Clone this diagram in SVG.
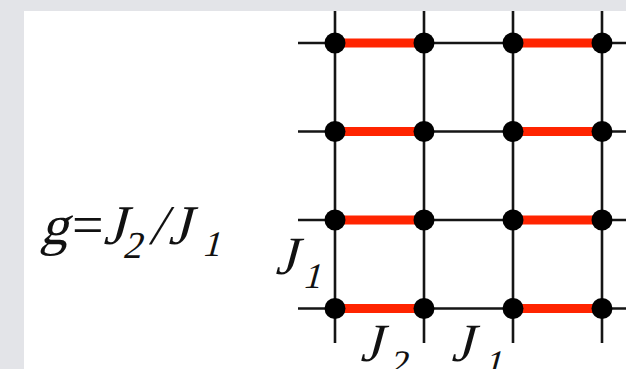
<svg xmlns="http://www.w3.org/2000/svg" width="626" height="369" viewBox="0 0 626 369">
<style>
.ln{stroke:#151515;stroke-width:2.6;fill:none}
.rd{stroke:#ff2400;stroke-width:9;fill:none}
.dot{fill:#000}
</style>
<rect x="0" y="0" width="626" height="369" fill="#e3e4e8"/>
<rect x="24" y="11" width="602" height="358" fill="#fff"/>
<g id="connectors">
<g id="vertical">
<line class="ln" x1="335" y1="11" x2="335" y2="343"/>
<line class="ln" x1="424" y1="11" x2="424" y2="343"/>
<line class="ln" x1="513" y1="11" x2="513" y2="343"/>
<line class="ln" x1="602" y1="11" x2="602" y2="343"/>
</g>
<g id="horizontal">
<line class="ln" x1="298" y1="43" x2="626" y2="43"/>
<line class="ln" x1="298" y1="131.5" x2="626" y2="131.5"/>
<line class="ln" x1="298" y1="220" x2="626" y2="220"/>
<line class="ln" x1="298" y1="308.5" x2="626" y2="308.5"/>
</g>
<g id="j2-bonds">
<line class="rd" x1="335" y1="43" x2="424" y2="43"/>
<line class="rd" x1="513" y1="43" x2="602" y2="43"/>
<line class="rd" x1="335" y1="131.5" x2="424" y2="131.5"/>
<line class="rd" x1="513" y1="131.5" x2="602" y2="131.5"/>
<line class="rd" x1="335" y1="220" x2="424" y2="220"/>
<line class="rd" x1="513" y1="220" x2="602" y2="220"/>
<line class="rd" x1="335" y1="308.5" x2="424" y2="308.5"/>
<line class="rd" x1="513" y1="308.5" x2="602" y2="308.5"/>
</g>
</g>
<g id="nodes">
<g id="n11"><circle class="dot" cx="335" cy="43" r="10.5"/></g>
<g id="n12"><circle class="dot" cx="424" cy="43" r="10.5"/></g>
<g id="n13"><circle class="dot" cx="513" cy="43" r="10.5"/></g>
<g id="n14"><circle class="dot" cx="602" cy="43" r="10.5"/></g>
<g id="n21"><circle class="dot" cx="335" cy="131.5" r="10.5"/></g>
<g id="n22"><circle class="dot" cx="424" cy="131.5" r="10.5"/></g>
<g id="n23"><circle class="dot" cx="513" cy="131.5" r="10.5"/></g>
<g id="n24"><circle class="dot" cx="602" cy="131.5" r="10.5"/></g>
<g id="n31"><circle class="dot" cx="335" cy="220" r="10.5"/></g>
<g id="n32"><circle class="dot" cx="424" cy="220" r="10.5"/></g>
<g id="n33"><circle class="dot" cx="513" cy="220" r="10.5"/></g>
<g id="n34"><circle class="dot" cx="602" cy="220" r="10.5"/></g>
<g id="n41"><circle class="dot" cx="335" cy="308.5" r="10.5"/></g>
<g id="n42"><circle class="dot" cx="424" cy="308.5" r="10.5"/></g>
<g id="n43"><circle class="dot" cx="513" cy="308.5" r="10.5"/></g>
<g id="n44"><circle class="dot" cx="602" cy="308.5" r="10.5"/></g>
</g>
<g id="labels" font-family="Liberation Serif, serif" fill="#111">
<g id="ratio" transform="translate(0,244) skewX(-15)">
<text font-size="56" x="40" y="0">g</text>
<text font-size="56" x="72" y="0" transform="skewX(15)">=</text>
<text font-size="56" x="103" y="0">J</text>
<text font-size="38" x="126" y="14">2</text>
<text font-size="56" x="149" y="0">/</text>
<text font-size="56" x="168" y="0">J</text>
<text font-size="36" x="205" y="12">1</text>
</g>
<g id="label-left" transform="translate(0,274) skewX(-15)">
<text font-size="54" x="275" y="0">J</text>
<text font-size="36" x="306" y="14">1</text>
</g>
<g id="label-bottom-j2" transform="translate(0,361) skewX(-15)">
<text font-size="54" x="360" y="0">J</text>
<text font-size="36" x="392" y="14">2</text>
</g>
<g id="label-bottom-j1" transform="translate(0,361) skewX(-15)">
<text font-size="54" x="451" y="0">J</text>
<text font-size="36" x="487" y="14">1</text>
</g>
</g>
</svg>
